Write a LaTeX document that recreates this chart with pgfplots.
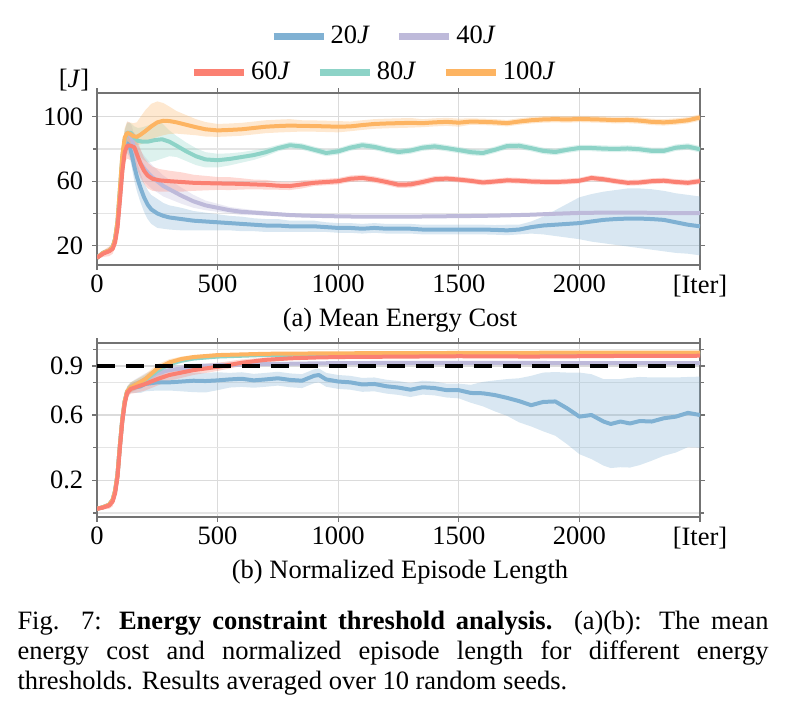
\documentclass[border=0pt]{standalone}
\usepackage{pgfplots}
\pgfplotsset{compat=1.18}
\usepackage{pgfplotstable}
\usepgfplotslibrary{fillbetween}
\usepackage{fontspec}
\setmainfont{Liberation Serif}
\definecolor{cB}{HTML}{80B1D3}
\definecolor{cP}{HTML}{BEBADA}
\definecolor{cR}{HTML}{FB8072}
\definecolor{cT}{HTML}{8DD3C7}
\definecolor{cO}{HTML}{FDB462}

% ---------- top panel: mean energy cost ----------
\pgfplotstableread{
x m dl du
0 12.5 1 1
25 15.5 1 1
50 17 1 1
65 19 1.5 1.5
75 24 2 2
85 33 3 3
95 50 4 4
105 68 5 5
115 80 5 5
125 83.5 6 6
135 82 7 7
145 76 8 8
155 69 9 9
165 63 9 9
180 56 9 9
195 50 9 9
210 45.5 9 9
225 42.5 9 9
250 40 9 9
275 38.5 8 8
300 37.5 7.5 7.5
350 36.5 7 7
400 35.5 6 6
450 35 5.5 5.5
500 34.5 5 5
550 34 4.5 4.5
600 33.5 4.5 4.5
650 33 4 4
700 32.5 4 4
750 32.5 4 4
800 32 3.5 3.5
850 32 3.5 3.5
900 32 3.5 3.5
950 31.5 3 3
1000 31 3 3
1050 31 3 3
1100 30.5 3 3
1150 31 3 3
1200 30.5 3 3
1250 30.5 3 3
1300 30.5 3 3
1350 30 3 3
1400 30 3 3
1450 30 3 3
1500 30 3 3
1550 30 3 3
1600 30 3 3
1650 29.8 3 3
1700 29.5 3 3.5
1750 30 3 3
1800 31.5 4 3.5
1850 32.5 5.5 5.5
1900 33 7 9
1950 33.5 8.5 12.5
2000 34 10 16
2050 35 12.5 17
2100 36 14.5 17.5
2150 36.5 16 18
2200 36.8 17.3 18.7
2250 36.8 18.3 18.7
2300 36.5 19 18.5
2350 36 19.5 18
2400 34.5 19 18
2450 33 18 18.5
2500 32 18 18.5
}\tAa
\pgfplotstableread{
x m dl du
0 12.5 1 1
25 15.5 1 1
50 17 1 1
65 19 1.5 1.5
75 24 2 2
85 34 3 3
95 52 4 4
105 72 5 5
115 85 6 6
125 90 7 7
135 89.5 7 7
145 86 8 8
155 80 8 8
170 74 8 8
185 70 8 8
200 67 8 8
225 63 7.5 7.5
250 60 7 7
275 57 6.5 6.5
300 55 6 6
350 51 5 5
400 47.5 4 4
450 45 3 3
500 43.5 2.5 2.5
550 42 2 2
600 41 2 2
650 40.5 1.5 1.5
700 40 1.5 1.5
750 39.5 1.2 1.2
800 39 1 1
850 38.7 1 1
900 38.5 1 1
1000 38.2 1 1
1100 38 1 1
1200 38 1 1
1300 38 1 1
1400 38.2 1 1
1500 38.3 1 1
1600 38.5 1 1
1700 38.8 1 1
1800 39.2 1 1
1900 39.8 1 1
2000 40.3 1 1
2100 40.5 1 1
2200 40.5 1 1
2300 40.4 1 1
2400 40.2 1 1
2500 40.2 1 1
}\tAb
\pgfplotstableread{
x m dl du
0 12.5 1 1
25 15 2 2
50 16.5 3 3
65 18 3 3
75 22 3 3
85 31 4 4
95 48 5 5
105 66 6 6
115 78 6 6
125 82 8 8
140 82 9 9
155 81 9 9
165 77 9 9
180 71 9 9
195 66.5 8 8
210 63.5 8 8
230 61.5 7.5 7.5
260 60.5 7 7
300 60 6.5 6.5
350 59.5 6 6
400 59 5 5
450 58.8 4.5 4.5
500 58.6 4 4
550 58.5 4 4
600 58.3 3.5 3.5
650 58 3 3
700 57.8 3 3
750 57.2 2.5 2.5
800 57 2.5 2.5
850 58 2.5 2.5
900 59 2 2
950 59.5 2 2
1000 60 2 2
1050 61.5 2 2
1100 62 2 2
1150 61 2 2
1200 59.5 2 2
1250 57.8 2 2
1300 58 2 2
1350 59.5 2 2
1400 61.2 2 2
1450 61.6 1.8 1.8
1500 61 1.8 1.8
1550 60.2 1.8 1.8
1600 59.2 1.8 1.8
1650 59.8 1.8 1.8
1700 60.5 1.8 1.8
1750 60.3 1.8 1.8
1800 59.8 1.8 1.8
1850 59.6 1.8 1.8
1900 59.5 1.8 1.8
1950 59.8 1.8 1.8
2000 60.3 1.8 1.8
2050 62 1.8 1.8
2100 61.2 1.8 1.8
2150 60 1.8 1.8
2200 59 1.8 1.8
2250 59.2 1.8 1.8
2300 60 1.8 1.8
2350 60.3 1.8 1.8
2400 59.5 1.8 1.8
2450 59 1.8 1.8
2500 60 1.8 1.8
}\tAc
\pgfplotstableread{
x m dl du
0 12.5 1 1
25 15.5 1 1
50 17 1 1
65 19 1.5 1.5
75 24 2 2
85 35 3 3
95 55 5 5
105 75 6 6
115 86 6 6
125 90 6 6
140 90 6 6
155 87 7 7
170 85 8 8
190 84.5 11 9
210 84.5 13 10
240 85.5 13 11
270 86 12 10
300 84.5 9 7
330 82 7 6
370 78.5 6 5.5
410 75.5 5.5 5
450 73.5 5 4.5
500 73 4.5 4
550 73.8 4 3.5
600 75 3.5 3
650 76.2 3 3
700 78 2.5 2.5
750 80.5 2 2
800 82.3 2 2
850 81.5 2 2
900 79.5 2 2
950 77.5 2 2
1000 78.5 2 2
1050 80.8 2 2
1100 82.3 2 2
1150 81.3 2 2
1200 79.5 2 2
1250 78.1 2 2
1300 79 2 2
1350 80.8 2 2
1400 81.6 2 2
1450 80.5 2 2
1500 79.3 2 2
1550 78 2 2
1600 77.5 2 2
1650 79.5 2 2
1700 81.8 2 2
1750 82 2 2
1800 80.5 2 2
1850 78.8 2 2
1900 78.1 2 2
1950 79.5 2 2
2000 80.6 2 2
2050 80.6 2 2
2100 80.2 2 2
2150 80 2 2
2200 80.3 2 2
2250 79.8 2 2
2300 78.8 2 2
2350 78.8 2 2
2400 80.8 2 2
2450 81.5 2 2
2500 79.8 2 2
}\tAd
\pgfplotstableread{
x m dl du
0 12.5 1 1
25 15.5 1 1
50 17 1 1
65 19 1.5 1.5
75 24 2 2
85 35 3 3
95 55 5 5
105 76 6 6
115 87 6 6
125 90 7 7
135 89.5 6 7
150 88 5 8
165 87.5 5 9
180 88.8 6 11
200 91 7 13
225 94 8 14
250 96.5 9 13
275 97.5 9 11
300 97.3 8 9
330 96.5 7 7
370 95 6 6
410 93.5 5 5
450 92.2 4.5 4.5
500 91.5 4 4
550 91.8 4 4
600 92.2 4 4
650 93 4 4
700 93.8 4 4
750 94.2 4 4
800 94.5 4 4
850 94.3 3.5 3.5
900 94.2 3.5 3.5
950 94 3.5 3.5
1000 93.8 3.5 3.5
1050 94 3 3
1100 94.8 3 3
1150 95.5 3 3
1200 95.8 3 3
1250 96 3 3
1300 96.2 3 3
1350 96 2.5 2.5
1400 96.5 2.5 2.5
1450 96.8 2.5 2.5
1500 96.3 2.5 2.5
1550 97 2 2
1600 96.8 2 2
1650 96.5 2 2
1700 96 2 2
1750 97 2 2
1800 97.8 2 2
1850 98.3 2 2
1900 98.5 2 2
1950 98.3 2 2
2000 98.6 2 2
2050 98.4 2 2
2100 98.2 2 2
2150 97.8 2 2
2200 98 2 2
2250 97.6 2 2
2300 96.8 2 2
2350 96.5 2 2
2400 97 2 2
2450 97.8 2 2
2500 99.5 2 2
}\tAe

% ---------- bottom panel: normalized episode length ----------
\pgfplotstableread{
x m dl du
0 0.025 0.005 0.005
25 0.035 0.005 0.005
50 0.05 0.01 0.01
65 0.08 0.02 0.02
75 0.13 0.03 0.03
85 0.23 0.04 0.04
95 0.41 0.04 0.04
105 0.57 0.04 0.04
115 0.68 0.03 0.03
125 0.74 0.03 0.03
140 0.765 0.03 0.03
160 0.77 0.035 0.035
180 0.775 0.04 0.04
200 0.79 0.045 0.045
250 0.80 0.05 0.05
300 0.80 0.05 0.05
350 0.805 0.06 0.05
400 0.81 0.07 0.05
450 0.808 0.07 0.05
500 0.812 0.06 0.05
550 0.818 0.05 0.04
600 0.822 0.05 0.04
650 0.812 0.045 0.04
700 0.818 0.045 0.04
750 0.825 0.045 0.04
800 0.815 0.045 0.04
850 0.81 0.045 0.04
900 0.84 0.045 0.04
920 0.845 0.045 0.04
950 0.818 0.045 0.04
1000 0.805 0.045 0.04
1050 0.80 0.045 0.04
1100 0.787 0.045 0.04
1150 0.79 0.045 0.04
1200 0.776 0.045 0.04
1250 0.768 0.045 0.04
1300 0.755 0.045 0.04
1350 0.77 0.045 0.04
1400 0.765 0.045 0.04
1450 0.752 0.045 0.04
1500 0.752 0.05 0.04
1550 0.735 0.06 0.05
1600 0.733 0.08 0.07
1650 0.722 0.10 0.09
1700 0.705 0.11 0.115
1750 0.685 0.13 0.14
1800 0.66 0.13 0.18
1850 0.68 0.18 0.18
1900 0.683 0.21 0.18
1950 0.64 0.22 0.22
2000 0.59 0.23 0.27
2050 0.60 0.27 0.25
2100 0.56 0.27 0.26
2130 0.545 0.27 0.275
2170 0.56 0.28 0.26
2210 0.548 0.27 0.28
2250 0.563 0.27 0.27
2300 0.56 0.24 0.27
2350 0.58 0.23 0.25
2400 0.59 0.22 0.24
2450 0.613 0.21 0.22
2500 0.60 0.20 0.235
}\tBa
\pgfplotstableread{
x m dl du
0 0.025 0.005 0.005
25 0.035 0.005 0.005
50 0.05 0.01 0.01
65 0.08 0.02 0.02
75 0.135 0.03 0.03
85 0.235 0.04 0.04
95 0.415 0.04 0.04
105 0.575 0.04 0.04
115 0.685 0.03 0.03
125 0.745 0.03 0.03
140 0.77 0.03 0.03
160 0.785 0.035 0.035
200 0.82 0.035 0.035
250 0.855 0.03 0.03
300 0.875 0.025 0.025
400 0.895 0.02 0.02
500 0.905 0.015 0.015
700 0.912 0.01 0.01
1000 0.918 0.01 0.01
1500 0.92 0.01 0.01
2000 0.918 0.01 0.01
2500 0.918 0.01 0.01
}\tBb
\pgfplotstableread{
x m dl du
0 0.025 0.01 0.01
25 0.033 0.01 0.01
50 0.045 0.02 0.02
65 0.07 0.03 0.03
75 0.12 0.035 0.035
85 0.22 0.04 0.04
95 0.40 0.04 0.04
105 0.56 0.04 0.04
115 0.67 0.035 0.035
125 0.735 0.03 0.03
140 0.76 0.03 0.03
160 0.77 0.035 0.035
200 0.79 0.04 0.04
250 0.82 0.04 0.04
300 0.845 0.035 0.035
400 0.875 0.03 0.03
500 0.895 0.025 0.025
600 0.92 0.02 0.02
700 0.938 0.015 0.015
800 0.947 0.01 0.01
900 0.952 0.01 0.01
1000 0.955 0.008 0.008
1200 0.957 0.008 0.008
1500 0.96 0.008 0.008
1800 0.958 0.008 0.008
2000 0.96 0.008 0.008
2200 0.962 0.008 0.008
2500 0.963 0.008 0.008
}\tBc
\pgfplotstableread{
x m dl du
0 0.025 0.005 0.005
25 0.035 0.005 0.005
50 0.05 0.01 0.01
65 0.08 0.02 0.02
75 0.135 0.03 0.03
85 0.235 0.04 0.04
95 0.415 0.04 0.04
105 0.575 0.04 0.04
115 0.685 0.03 0.03
125 0.745 0.03 0.03
140 0.77 0.03 0.03
160 0.785 0.03 0.03
200 0.815 0.03 0.03
250 0.87 0.025 0.025
300 0.912 0.02 0.02
350 0.933 0.015 0.015
400 0.946 0.012 0.012
500 0.958 0.01 0.01
700 0.968 0.008 0.008
1000 0.971 0.007 0.007
1500 0.973 0.007 0.007
2000 0.975 0.007 0.007
2500 0.975 0.007 0.007
}\tBd
\pgfplotstableread{
x m dl du
0 0.025 0.005 0.005
25 0.035 0.005 0.005
50 0.05 0.01 0.01
65 0.08 0.02 0.02
75 0.135 0.03 0.03
85 0.235 0.04 0.04
95 0.415 0.04 0.04
105 0.575 0.04 0.04
115 0.685 0.03 0.03
125 0.745 0.03 0.03
140 0.77 0.03 0.03
160 0.785 0.03 0.03
200 0.82 0.03 0.03
250 0.885 0.025 0.025
300 0.922 0.02 0.02
350 0.943 0.015 0.015
400 0.955 0.012 0.012
500 0.967 0.01 0.01
700 0.975 0.008 0.008
1000 0.978 0.007 0.007
1500 0.98 0.007 0.007
2000 0.982 0.007 0.007
2500 0.982 0.007 0.007
}\tBe

\pgfplotsset{
  panel/.style={
    scale only axis, width=241.2pt,
    xmin=0, xmax=2500,
    axis line style={black!55, line width=0.6pt},
    tick style={black!55, line width=0.5pt},
    tick align=outside, major tick length=2pt, minor tick length=1.5pt,
    grid=both,
    major grid style={black!14, line width=0.5pt},
    minor grid style={black!10, line width=0.5pt},
    xtick={0,500,1000,1500,2000,2500},
    xticklabels={0,500,1000,1500,2000,{[Iter]}},
    tick label style={font=\rmfamily\fontsize{10.6}{12}\selectfont},
    /pgf/number format/assume math mode=true,
    xticklabel style={yshift=1.6pt},
    every axis plot/.append style={line join=round},
  },
  band/.style={fill=#1, fill opacity=0.3, draw=none, forget plot},
  mline/.style={#1, line width=1.6pt, forget plot},
  legpanel/.style={hide axis, scale only axis, width=10pt, height=10pt,
    xmin=0, xmax=1, ymin=0, ymax=1, anchor=center,
    legend columns=-1,
    legend style={draw=none, fill=none, at={(0.5,0.5)}, anchor=center,
      font=\rmfamily\fontsize{10.6}{12}\selectfont,
      nodes={inner sep=1.5pt},
      /tikz/every even column/.append style={column sep=9pt},
      inner sep=0pt},
    legend image code/.code={\draw[##1, line width=2.6pt, line cap=butt] (0pt,0pt) -- (20pt,0pt);},
  },
}

\newcommand{\bandplot}[3]{%
  \addplot[name path=#2u, draw=none, forget plot] table[x=x, y expr=\thisrow{m}+\thisrow{du}] {#1};
  \addplot[name path=#2l, draw=none, forget plot] table[x=x, y expr=\thisrow{m}-\thisrow{dl}] {#1};
  \addplot[band=#3] fill between[of=#2u and #2l];
}

\begin{document}
\begin{tikzpicture}

% legends
\begin{axis}[legpanel, at={(154pt,-14.6pt)}]
\addplot[draw=none, forget plot] coordinates {(0,0) (1,1)};
\addlegendimage{cB}\addlegendentry{20\textit{J}}
\addlegendimage{cP}\addlegendentry{40\textit{J}}
\end{axis}
\begin{axis}[legpanel, at={(150pt,-29pt)}]
\addplot[draw=none, forget plot] coordinates {(0,0) (1,1)};
\addlegendimage{cR}\addlegendentry{60\textit{J}}
\addlegendimage{cT}\addlegendentry{80\textit{J}}
\addlegendimage{cO}\addlegendentry{100\textit{J}}
\end{axis}

% top panel
\begin{axis}[panel, height=68.8pt, at={(38.8pt,-106pt)}, anchor=south west,
  ymin=8, ymax=114.7, ytick={20,60,100}, yticklabels={20,60,100}, minor ytick={40,80}]
\bandplot{\tAa}{aa}{cB}
\bandplot{\tAb}{ab}{cP}
\bandplot{\tAd}{ad}{cT}
\bandplot{\tAe}{ae}{cO}
\bandplot{\tAc}{ac}{cR}
\addplot[mline=cB] table[x=x, y=m] {\tAa};
\addplot[mline=cP] table[x=x, y=m] {\tAb};
\addplot[mline=cT] table[x=x, y=m] {\tAd};
\addplot[mline=cO] table[x=x, y=m] {\tAe};
\addplot[mline=cR] table[x=x, y=m] {\tAc};
\end{axis}
\node[font=\fontsize{10.6}{12}\selectfont] at (29.6pt,-32pt) {[\textit{J}]};
\node[font=\fontsize{10.6}{12}\selectfont] at (160pt,-128pt) {(a) Mean Energy Cost};

% bottom panel
\begin{axis}[panel, height=69.6pt, at={(38.8pt,-206.8pt)}, anchor=south west,
  ymin=-0.025, ymax=1.041, ytick={0.2,0.6,0.9}, yticklabels={0.2,0.6,0.9},
  minor ytick={0,0.4,0.8,1.0}]
\bandplot{\tBa}{ba}{cB}
\bandplot{\tBb}{bb}{cP}
\bandplot{\tBd}{bd}{cT}
\bandplot{\tBe}{be}{cO}
\bandplot{\tBc}{bc}{cR}
\addplot[mline=cB] table[x=x, y=m] {\tBa};
\addplot[mline=cP] table[x=x, y=m] {\tBb};
\addplot[mline=cT] table[x=x, y=m] {\tBd};
\addplot[mline=cO] table[x=x, y=m] {\tBe};
\addplot[mline=cR] table[x=x, y=m] {\tBc};
\addplot[black, line width=1.3pt, dash pattern=on 7.2pt off 4.4pt, forget plot] coordinates {(0,0.9) (2500,0.9)};
\end{axis}
\node[font=\fontsize{10.6}{12}\selectfont] at (160pt,-228.8pt) {(b) Normalized Episode Length};

% caption
\node[anchor=north west, inner sep=0pt, text width=300.4pt, align=justify,
  font=\fontsize{10.6}{12}\selectfont] at (6.8pt,-244.4pt)
  {\hyphenpenalty=10000 Fig. 7: \textbf{Energy constraint threshold analysis.} (a)(b): The mean\linebreak energy cost and normalized episode length for different energy\linebreak thresholds. Results averaged over 10 random seeds.};

\pgfresetboundingbox
\useasboundingbox (0pt,0pt) rectangle (314pt,-284.8pt);
\end{tikzpicture}
\end{document}
